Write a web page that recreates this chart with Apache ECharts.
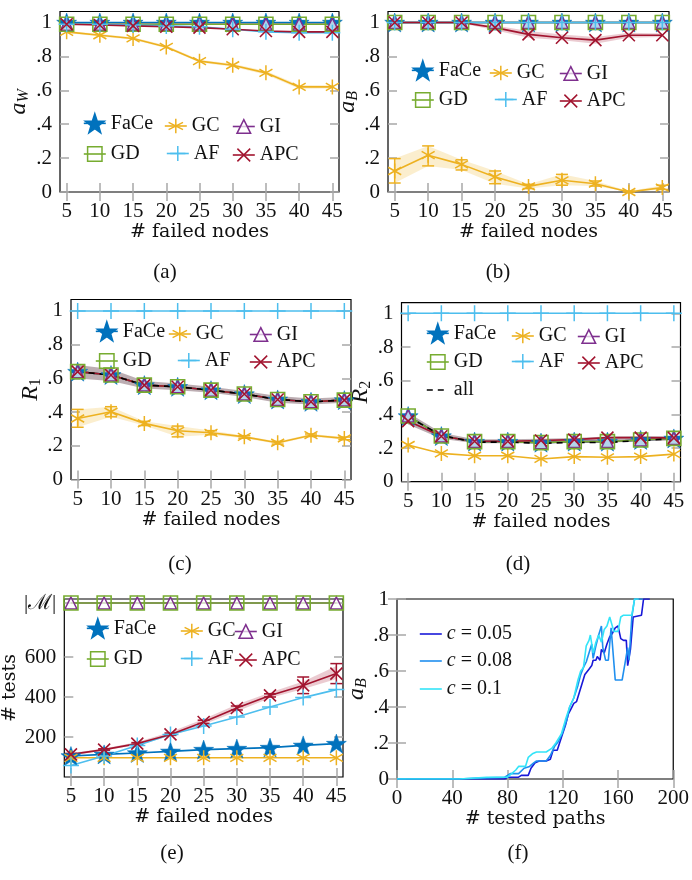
<!DOCTYPE html>
<html><head><meta charset="utf-8">
<script src="https://cdn.jsdelivr.net/npm/echarts@6/dist/echarts.min.js"></script>
<style>html,body{margin:0;padding:0;background:#fff}#c{width:692px;height:880px}</style>
</head><body><div id="c"></div>
<script>
// ---------------- data ----------------
const nodes = [5, 10, 15, 20, 25, 30, 35, 40, 45];
const fracTicks = [0, 0.2, 0.4, 0.6, 0.8, 1];
const testTicks = [200, 400, 600, 870];
const pathTicks = [0, 40, 80, 120, 160, 200];
const M_SIZE = 870;

// (a) a_W
const aW_FaCe = [1, 1, 1, 1, 1, 1, 1, 1, 1];
const aW_GC = [0.945, 0.925, 0.906, 0.856, 0.772, 0.748, 0.703, 0.62, 0.62];
const aW_GC_lo = [0.938, 0.918, 0.899, 0.848, 0.764, 0.739, 0.692, 0.609, 0.61];
const aW_GC_hi = [0.952, 0.932, 0.913, 0.864, 0.78, 0.757, 0.714, 0.631, 0.63];
const aW_GI = [0.99, 0.99, 0.99, 0.99, 0.99, 0.99, 0.99, 0.99, 0.99];
const aW_GD = [0.99, 0.99, 0.99, 0.99, 0.99, 0.99, 0.99, 0.99, 0.99];
const aW_AF = [0.99, 0.99, 0.985, 0.98, 0.975, 0.96, 0.945, 0.94, 0.94];
const aW_APC = [0.99, 0.985, 0.98, 0.975, 0.97, 0.96, 0.95, 0.945, 0.945];

// (b) a_B
const aB_FaCe = [1, 1, 1, 1, 1, 1, 1, 1, 1];
const aB_GC = [0.124, 0.217, 0.163, 0.089, 0.033, 0.069, 0.049, 0, 0.026];
const aB_GC_lo = [0.053, 0.154, 0.13, 0.049, 0.02, 0.04, 0.035, 0, 0.015];
const aB_GC_hi = [0.197, 0.272, 0.19, 0.124, 0.045, 0.104, 0.065, 0.005, 0.04];
const aB_GI = [1, 1, 1, 1, 1, 1, 1, 1, 1];
const aB_GD = [1, 1, 1, 1, 1, 1, 1, 1, 1];
const aB_AF = [1, 1, 1, 1, 1, 1, 1, 1, 1];
const aB_APC = [1, 1, 1, 0.97, 0.93, 0.91, 0.896, 0.925, 0.925];
const aB_APC_lo = [0.995, 0.995, 0.995, 0.955, 0.91, 0.895, 0.875, 0.91, 0.915];
const aB_APC_hi = [1, 1, 1, 0.982, 0.95, 0.93, 0.915, 0.94, 0.935];

// (c) R_1
const R1_FaCe = [0.64, 0.62, 0.56, 0.55, 0.53, 0.507, 0.475, 0.461, 0.471];
const R1_GC = [0.362, 0.402, 0.333, 0.289, 0.277, 0.253, 0.218, 0.263, 0.244];
const R1_GC_lo = [0.31, 0.372, 0.32, 0.253, 0.265, 0.245, 0.21, 0.255, 0.236];
const R1_GC_hi = [0.416, 0.432, 0.345, 0.317, 0.29, 0.26, 0.226, 0.27, 0.252];
const R1_GI = [0.64, 0.62, 0.56, 0.55, 0.53, 0.507, 0.475, 0.461, 0.471];
const R1_GD = [0.64, 0.62, 0.56, 0.55, 0.53, 0.507, 0.475, 0.461, 0.471];
const R1_AF = [1, 1, 1, 1, 1, 1, 1, 1, 1];
const R1_APC = [0.64, 0.62, 0.56, 0.55, 0.53, 0.507, 0.475, 0.461, 0.471];
const R1_APC_lo = [0.6, 0.585, 0.54, 0.53, 0.515, 0.49, 0.455, 0.445, 0.455];
const R1_APC_hi = [0.68, 0.655, 0.585, 0.57, 0.55, 0.525, 0.495, 0.48, 0.49];
const R1_all = [0.64, 0.62, 0.56, 0.55, 0.53, 0.507, 0.475, 0.461, 0.471];

// (d) R_2
const R2_FaCe = [0.39, 0.271, 0.238, 0.238, 0.232, 0.238, 0.238, 0.248, 0.257];
const R2_GC = [0.218, 0.168, 0.154, 0.154, 0.135, 0.149, 0.145, 0.149, 0.164];
const R2_GI = [0.39, 0.271, 0.238, 0.238, 0.232, 0.238, 0.238, 0.248, 0.257];
const R2_GD = [0.39, 0.271, 0.238, 0.238, 0.232, 0.238, 0.238, 0.248, 0.257];
const R2_AF = [1, 1, 1, 1, 1, 1, 1, 1, 1];
const R2_APC = [0.36, 0.27, 0.24, 0.24, 0.245, 0.25, 0.262, 0.262, 0.26];
const R2_APC_lo = [0.34, 0.255, 0.228, 0.228, 0.228, 0.23, 0.232, 0.24, 0.245];
const R2_APC_hi = [0.41, 0.29, 0.252, 0.252, 0.255, 0.26, 0.268, 0.27, 0.27];
const R2_all = [0.385, 0.275, 0.235, 0.235, 0.228, 0.233, 0.233, 0.245, 0.255];

// (e) # tests
const tests_FaCe = [105, 113, 120, 128, 137, 142, 147, 158, 167];
const tests_GC = [96, 96, 96, 96, 96, 96, 96, 96, 96];
const tests_GI = [870, 870, 870, 870, 870, 870, 870, 870, 870];
const tests_GD = [870, 870, 870, 870, 870, 870, 870, 870, 870];
const tests_AF = [58, 105, 158, 212, 255, 300, 350, 397, 437];
const tests_APC = [113, 137, 167, 213, 275, 345, 408, 458, 517];
const tests_APC_lo = [108, 132, 160, 205, 262, 328, 395, 440, 490];
const tests_APC_hi = [120, 143, 175, 225, 290, 362, 422, 478, 555];
const tests_APC_errLo = [110, 134, 163, 208, 268, 335, 400, 417, 467];
const tests_APC_errHi = [118, 141, 172, 220, 284, 355, 416, 500, 567];

// (f) a_B vs # tested paths
const curve_c005 = [[0,0],[78,0],[80,0.01],[88,0.01],[90,0.02],[95,0.02],[97,0.06],[100,0.09],[103,0.1],[108,0.1],[111,0.11],[113,0.16],[116,0.16],[119,0.23],[122,0.3],[124,0.36],[126,0.39],[128,0.42],[130,0.43],[132,0.48],[134,0.53],[136,0.58],[137,0.57],[139,0.61],[141,0.63],[142,0.66],[144,0.66],[145,0.68],[147,0.66],[148,0.72],[150,0.7],[152,0.75],[154,0.79],[156,0.81],[158,0.84],[160,0.85],[162,0.78],[164,0.77],[166,0.77],[167,0.63],[168,0.63],[169,0.72],[171,0.9],[177,0.91],[178.5,1],[183,1]];
const curve_c008 = [[0,0],[45,0],[60,0.005],[78,0.01],[82,0.03],[88,0.03],[92,0.06],[96,0.07],[99,0.09],[101,0.1],[108,0.1],[111,0.13],[114,0.18],[117,0.21],[120,0.26],[123,0.33],[125,0.4],[128,0.45],[131,0.52],[133,0.58],[135,0.62],[137,0.65],[139,0.7],[141,0.75],[142,0.67],[144,0.74],[146,0.8],[148,0.85],[149,0.73],[151,0.66],[153,0.66],[155,0.84],[156,0.84],[158,0.55],[163,0.55],[165,0.64],[167,0.73],[168,0.66],[170,0.9],[172,1],[178,1]];
const curve_c01 = [[0,0],[45,0],[65,0.01],[80,0.01],[83,0.03],[86,0.05],[88,0.07],[93,0.07],[95,0.12],[98,0.14],[101,0.15],[108,0.15],[112,0.17],[115,0.2],[119,0.25],[122,0.33],[125,0.4],[128,0.45],[131,0.55],[133,0.6],[135,0.62],[137,0.74],[139,0.77],[140,0.8],[142,0.7],[144,0.76],[146,0.8],[148,0.76],[150,0.83],[152,0.85],[154,0.9],[155,0.91],[157,0.82],[160,0.82],[162,0.9],[164,0.91],[170,0.91],[172,1],[175,1]];

// ---------------- styling ----------------
const NUMF = 'Liberation Serif';
const NAMEF = 'DejaVu Serif';
const TXT = '#111';
function starPath(n, ro, ri) {
  let d = '';
  for (let i = 0; i < 2 * n; i++) {
    const r = i % 2 ? ri : ro, a = -Math.PI / 2 + i * Math.PI / n;
    d += (i ? 'L' : 'M') + (r * Math.cos(a)).toFixed(3) + ',' + (r * Math.sin(a)).toFixed(3);
  }
  return 'path://' + d + 'Z';
}
const STYLE = {
  FaCe: { color: '#0072BD', symbol: starPath(5, 1, 0.4), size: 20, fill: '#0072BD', bw: 0.5 },
  GC:   { color: '#EDB120', symbol: 'path://M0,-1L0,1M-0.866,-0.5L0.866,0.5M-0.866,0.5L0.866,-0.5', size: 15, fill: 'transparent', bw: 1.5 },
  GI:   { color: '#7E2F8E', symbol: 'triangle', size: 12, fill: 'rgba(255,255,255,0.7)', bw: 1.5 },
  GD:   { color: '#77AC30', symbol: 'rect', size: 14, fill: 'transparent', bw: 1.6 },
  AF:   { color: '#4DBEEE', symbol: 'path://M0,-1L0,1M-1,0L1,0', size: 16, fill: 'transparent', bw: 1.5 },
  APC:  { color: '#A2142F', symbol: 'path://M-1,-1L1,1M-1,1L1,-1', size: 12, fill: 'transparent', bw: 1.6 },
  all:  { color: '#000', symbol: 'circle', size: 0, fill: 'transparent', bw: 0 }
};
const CURVE_COL = { 'c = 0.05': '#1818d8', 'c = 0.08': '#1f8fef', 'c = 0.1': '#33e4f8' };

const grids = [
  { left: 60, top: 11.5, width: 279, height: 180.5 },
  { left: 388, top: 11.5, width: 281, height: 180.5 },
  { left: 71, top: 299.5, width: 280, height: 180 },
  { left: 401.5, top: 302.7, width: 279, height: 179 },
  { left: 62.5, top: 599, width: 280.5, height: 178 },
  { left: 397, top: 599, width: 279, height: 180 }
];

const fracFmt = v => (v === 0 ? '0' : v === 1 ? '1' : v.toFixed(1).replace('0.', '.'));
const testFmt = v => (v === M_SIZE ? '|ℳ|' : String(v));
const subRich = {
  m: { fontFamily: NUMF, fontSize: 24, fontStyle: 'italic', color: TXT, lineHeight: 26 },
  s: { fontFamily: NUMF, fontSize: 16, fontStyle: 'italic', color: TXT, verticalAlign: 'bottom', lineHeight: 16 },
  n: { fontFamily: NUMF, fontSize: 16, color: TXT, verticalAlign: 'bottom', lineHeight: 16 }
};
const panelAxes = [
  { x: [4, 46, nodes, '# failed nodes'], y: [0, 1.065, fracTicks, fracFmt, '{m|a}{s|W}', 28] },
  { x: [4, 46, nodes, '# failed nodes'], y: [0, 1.065, fracTicks, fracFmt, '{m|a}{s|B}', 21] },
  { x: [4, 46, nodes, '# failed nodes'], y: [0, 1.068, fracTicks, fracFmt, '{m|R}{n|1}', 26] },
  { x: [4, 46, nodes, '# failed nodes'], y: [0, 1.063, fracTicks, fracFmt, '{m|R}{n|2}', 23] },
  { x: [4, 46, nodes, '# failed nodes'], y: [0, 890, testTicks, testFmt, '# tests', 34] },
  { x: [0, 200, pathTicks, '# tested paths'], y: [0, 1, fracTicks, fracFmt, '{m|a}{s|B}', 26] }
];

const option = {
  animation: false,
  backgroundColor: '#fff',
  grid: grids.map(g => Object.assign({ show: true, borderColor: '#000', borderWidth: 1.2, backgroundColor: 'transparent' }, g)),
  xAxis: [], yAxis: [], series: [], legend: [], graphic: []
};
const tickStyle = { inside: true, length: 9, lineStyle: { color: '#a8a8a8', width: 1.5 } };
panelAxes.forEach((pa, p) => {
  const [xmin, xmax, xt, xname] = pa.x;
  const [ymin, ymax, yt, yfmt, yname, ygap] = pa.y;
  option.xAxis.push({
    type: 'value', gridIndex: p, min: xmin, max: xmax, position: 'bottom',
    axisLine: { show: false }, splitLine: { show: false },
    axisTick: Object.assign({ customValues: xt }, tickStyle),
    axisLabel: { customValues: xt, margin: 9, fontFamily: NUMF, fontSize: 21, color: TXT, formatter: v => String(v) },
    name: xname, nameLocation: 'middle', nameGap: 31,
    nameTextStyle: { fontFamily: NAMEF, fontSize: 19, color: TXT }
  });
  option.xAxis.push({
    type: 'value', gridIndex: p, min: xmin, max: xmax, position: 'top',
    axisLine: { show: false }, splitLine: { show: false },
    axisTick: Object.assign({ customValues: xt }, tickStyle),
    axisLabel: { show: false, customValues: xt }
  });
  option.yAxis.push({
    type: 'value', gridIndex: p, min: ymin, max: ymax, position: 'left',
    axisLine: { show: false }, splitLine: { show: false },
    axisTick: Object.assign({ customValues: yt }, tickStyle),
    axisLabel: { customValues: yt, margin: 8, fontFamily: NUMF, fontSize: 21, color: TXT, formatter: yfmt },
    name: yname, nameLocation: 'middle', nameGap: ygap, nameRotate: 90,
    nameTextStyle: { fontFamily: NAMEF, fontSize: 19, color: TXT, rich: subRich }
  });
  option.yAxis.push({
    type: 'value', gridIndex: p, min: ymin, max: ymax, position: 'right',
    axisLine: { show: false }, splitLine: { show: false },
    axisTick: Object.assign({ customValues: yt }, tickStyle),
    axisLabel: { show: false, customValues: yt }
  });
});

function lineS(p, name, ys, dashed) {
  const s = STYLE[name];
  return {
    type: 'line', name, xAxisIndex: 2 * p, yAxisIndex: 2 * p,
    data: nodes.map((x, i) => [x, ys[i]]),
    symbol: s.symbol, symbolSize: s.size, symbolKeepAspect: true,
    showSymbol: s.size > 0, clip: false, z: 3,
    lineStyle: { color: s.color, width: 1.6, type: dashed ? [6, 5] : 'solid' },
    itemStyle: { color: s.fill, borderColor: s.color, borderWidth: s.bw },
    emphasis: { disabled: true }
  };
}
function bandS(p, lo, hi, fill) {
  return {
    type: 'custom', name: '_band', xAxisIndex: 2 * p, yAxisIndex: 2 * p, z: 1, silent: true,
    data: nodes.map((x, i) => [x, lo[i], hi[i]]),
    encode: { x: 0, y: [1, 2] },
    renderItem: (params, api) => {
      if (params.dataIndexInside !== 0) return null;
      const n = params.dataInsideLength;
      const top = [], bot = [];
      for (let i = 0; i < n; i++) {
        top.push(api.coord([api.value(0, i), api.value(2, i)]));
        bot.push(api.coord([api.value(0, i), api.value(1, i)]));
      }
      return { type: 'polygon', shape: { points: top.concat(bot.reverse()) }, style: { fill: fill } };
    }
  };
}
function errS(p, lo, hi, color) {
  return {
    type: 'custom', name: '_err', xAxisIndex: 2 * p, yAxisIndex: 2 * p, z: 3, silent: true,
    data: nodes.map((x, i) => [x, lo[i], hi[i]]),
    encode: { x: 0, y: [1, 2] },
    renderItem: (params, api) => {
      const a = api.coord([api.value(0), api.value(1)]);
      const b = api.coord([api.value(0), api.value(2)]);
      const w = 6, st = { stroke: color, lineWidth: 1.5 };
      return { type: 'group', children: [
        { type: 'line', shape: { x1: a[0], y1: a[1], x2: b[0], y2: b[1] }, style: st },
        { type: 'line', shape: { x1: a[0] - w, y1: a[1], x2: a[0] + w, y2: a[1] }, style: st },
        { type: 'line', shape: { x1: b[0] - w, y1: b[1], x2: b[0] + w, y2: b[1] }, style: st }
      ] };
    }
  };
}
const S = option.series;
const GCband = 'rgba(237,177,32,0.22)';
const APCband = 'rgba(162,20,47,0.22)';
// (a)
S.push(bandS(0, aW_GC_lo, aW_GC_hi, GCband));
S.push(lineS(0, 'FaCe', aW_FaCe), lineS(0, 'GC', aW_GC), lineS(0, 'GI', aW_GI), lineS(0, 'GD', aW_GD), lineS(0, 'AF', aW_AF), lineS(0, 'APC', aW_APC));
// (b)
S.push(bandS(1, aB_GC_lo, aB_GC_hi, GCband), bandS(1, aB_APC_lo, aB_APC_hi, APCband));
S.push(lineS(1, 'FaCe', aB_FaCe), errS(1, aB_GC_lo, aB_GC_hi, STYLE.GC.color), lineS(1, 'GC', aB_GC), lineS(1, 'GI', aB_GI), lineS(1, 'GD', aB_GD), lineS(1, 'AF', aB_AF), lineS(1, 'APC', aB_APC));
// (c)
S.push(bandS(2, R1_GC_lo, R1_GC_hi, GCband), bandS(2, R1_APC_lo, R1_APC_hi, 'rgba(95,60,72,0.42)'));
S.push(lineS(2, 'FaCe', R1_FaCe), errS(2, R1_GC_lo, R1_GC_hi, STYLE.GC.color), lineS(2, 'GC', R1_GC), lineS(2, 'GI', R1_GI), lineS(2, 'GD', R1_GD), lineS(2, 'AF', R1_AF), lineS(2, 'APC', R1_APC), lineS(2, 'all', R1_all, true));
// (d)
S.push(bandS(3, R2_APC_lo, R2_APC_hi, 'rgba(95,60,72,0.42)'));
S.push(lineS(3, 'FaCe', R2_FaCe), lineS(3, 'GC', R2_GC), lineS(3, 'GI', R2_GI), lineS(3, 'GD', R2_GD), lineS(3, 'AF', R2_AF), lineS(3, 'APC', R2_APC), lineS(3, 'all', R2_all, true));
// (e)
S.push(bandS(4, tests_APC_lo, tests_APC_hi, APCband));
S.push(lineS(4, 'FaCe', tests_FaCe), lineS(4, 'GC', tests_GC), lineS(4, 'GI', tests_GI), lineS(4, 'GD', tests_GD), lineS(4, 'AF', tests_AF), lineS(4, 'APC', tests_APC), errS(4, tests_APC_errLo, tests_APC_errHi, STYLE.APC.color));
// (f)
[['c = 0.05', curve_c005], ['c = 0.08', curve_c008], ['c = 0.1', curve_c01]].forEach(([nm, d]) => {
  S.push({
    type: 'line', name: nm, xAxisIndex: 10, yAxisIndex: 10, data: d,
    symbol: 'circle', showSymbol: false, z: 3,
    lineStyle: { color: CURVE_COL[nm], width: 1.6 },
    itemStyle: { color: 'transparent' }, emphasis: { disabled: true }
  });
});

// ---------------- legends ----------------
function leg(name, x, y, h, bw) {
  return {
    data: [name], left: x, top: y - h / 2, padding: 0, itemWidth: 22, itemHeight: h,
    selectedMode: false, orient: 'horizontal',
    textStyle: { fontFamily: NUMF, fontSize: 20, color: TXT,
      rich: { i: { fontFamily: NUMF, fontSize: 20, fontStyle: 'italic', color: TXT } } },
    formatter: n => (n.indexOf('c = ') === 0 ? '{i|c}' + n.slice(1) : n),
    itemStyle: { borderWidth: bw === undefined ? 1.5 : bw }, lineStyle: { width: 1.6 }
  };
}
const legendRows = [
  [[83, 125, 164, 232], [83, 153, 166, 232]],
  [[411, 72, 489, 559], [411, 99, 494, 559]],
  [[95, 333, 168, 249], [95, 360, 177, 249]],
  [[426, 335, 511, 577], [426, 361, 511, 577]],
  [[86, 630, 180, 234], [86, 658, 180, 234]]
];
legendRows.forEach(rows => {
  const [r1, r2] = rows;
  option.legend.push(leg('FaCe', r1[0], r1[1], 24), leg('GC', r1[2], r1[1], 18), leg('GI', r1[3], r1[1], 17));
  option.legend.push(leg('GD', r2[0], r2[1], 18), leg('AF', r2[2], r2[1], 19), leg('APC', r2[3], r2[1], 16));
});
option.legend.push(leg('all', 426, 389, 18, 0));
option.legend.push(leg('c = 0.05', 419, 633, 18, 0), leg('c = 0.08', 419, 660, 18, 0), leg('c = 0.1', 419, 688, 18, 0));

// ---------------- sub-captions ----------------
[['(a)', 165, 272], ['(b)', 498, 272], ['(c)', 180, 564], ['(d)', 518, 564], ['(e)', 172, 853], ['(f)', 518, 853]].forEach(([t, x, y]) => {
  option.graphic.push({ type: 'text', x: x, y: y, style: { text: t, fontFamily: NUMF, fontSize: 21, fill: TXT, align: 'center', verticalAlign: 'middle' } });
});

const chart = echarts.init(document.getElementById('c'), null, { renderer: 'canvas' });
chart.setOption(option);
</script></body></html>
